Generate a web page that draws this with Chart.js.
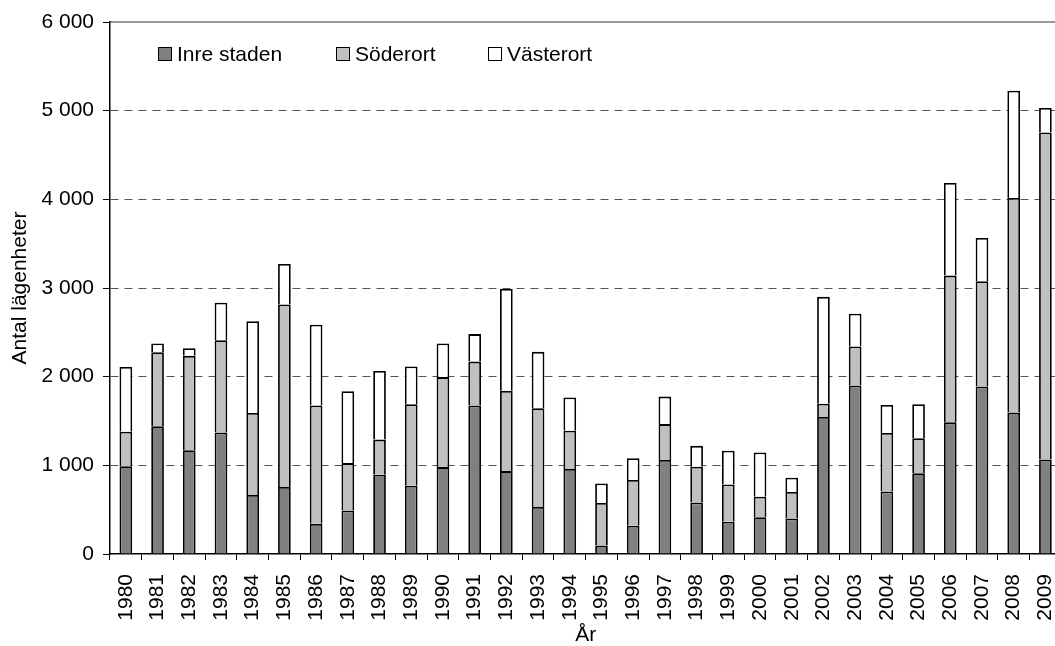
<!DOCTYPE html>
<html>
<head>
<meta charset="utf-8">
<script src="https://cdn.jsdelivr.net/npm/chart.js@4/dist/chart.umd.min.js"></script>
<style>
  html, body { margin: 0; padding: 0; background: #fff; overflow: hidden; }
  #chart { display: block; }
</style>
</head>
<body>
<canvas id="chart" width="1085" height="646"></canvas>
<script>
const years = ["1980","1981","1982","1983","1984","1985","1986","1987","1988","1989",
  "1990","1991","1992","1993","1994","1995","1996","1997","1998","1999",
  "2000","2001","2002","2003","2004","2005","2006","2007","2008","2009"];
const inreStaden = [990,1440,1170,1370,665,755,340,490,895,770,
  980,1675,935,530,960,95,320,1060,580,365,
  415,400,1545,1900,705,910,1485,1890,1595,1065];
const soderort = [390,835,1065,1040,925,2060,1335,535,395,920,
  1015,495,905,1115,430,480,515,405,405,420,
  230,300,150,440,660,395,1655,1185,2420,3690];
const vasterort = [730,100,85,425,1035,455,910,810,775,425,
  380,310,1150,635,375,220,245,310,235,380,
  500,160,1205,370,315,385,1045,490,1210,275];
const seriesNames = ["Inre staden", "Söderort", "Västerort"];
const yTicks = [0, 1000, 2000, 3000, 4000, 5000, 6000];

Chart.defaults.font.family = "'Liberation Sans', Arial, sans-serif";
Chart.defaults.font.size = 21;
Chart.defaults.color = "#000";

function fmt(v) {
  return String(v).replace(/\B(?=(\d{3})+(?!\d))/g, " ");
}

// legend drawn inside the plot area, top left
const innerLegend = {
  id: "innerLegend",
  afterDraw(chart) {
    const ctx = chart.ctx;
    const a = chart.chartArea;
    const offsets = [48, 226, 378];
    ctx.save();
    ctx.font = "21px 'Liberation Sans', Arial, sans-serif";
    ctx.textBaseline = "middle";
    ctx.textAlign = "left";
    chart.data.datasets.forEach((ds, i) => {
      const x = a.left + offsets[i];
      const y = 54;
      ctx.fillStyle = ds.backgroundColor;
      ctx.fillRect(x, y - 7, 14, 14);
      ctx.strokeStyle = "#000";
      ctx.lineWidth = 1;
      ctx.strokeRect(x + 0.5, y - 6.5, 13, 13);
      ctx.fillStyle = "#000";
      ctx.fillText(ds.label, x + 19, y + 1);
    });
    ctx.restore();
  }
};

const colors = ["#808080", "#c0c0c0", "#ffffff"];
const values = [inreStaden, soderort, vasterort];

new Chart(document.getElementById("chart"), {
  type: "bar",
  data: {
    labels: years,
    datasets: seriesNames.map((name, i) => ({
      label: name,
      data: values[i],
      backgroundColor: colors[i],
      borderColor: "#000",
      borderWidth: 1.8,
      categoryPercentage: 0.8,
      barPercentage: 0.5
    }))
  },
  options: {
    responsive: false,
    animation: false,
    layout: { padding: { top: 22, right: 2, left: 0, bottom: 0 } },
    plugins: {
      legend: { display: false },
      tooltip: { enabled: false }
    },
    scales: {
      x: {
        stacked: true,
        offset: true,
        grid: {
          offset: true,
          drawOnChartArea: false,
          tickLength: 6,
          tickColor: "#000",
          tickWidth: 1
        },
        border: { color: "#000", width: 1.5 },
        ticks: {
          autoSkip: false,
          minRotation: 90,
          maxRotation: 90,
          padding: 14,
          font: { size: 21 }
        },
        title: {
          display: true,
          text: "År",
          font: { size: 21, lineHeight: 1 },
          padding: { top: 0, bottom: 0 }
        },
        afterFit(scale) { scale.height = 92; }
      },
      xTop: {
        position: "top",
        grid: { display: false },
        ticks: { display: false },
        border: { color: "#999", width: 2 },
        afterFit(scale) { scale.height = 0; }
      },
      y: {
        stacked: true,
        min: 0,
        max: 6000,
        afterBuildTicks(scale) { scale.ticks = yTicks.map(v => ({ value: v })); },
        ticks: {
          padding: 9,
          callback: v => fmt(v),
          font: { size: 21 }
        },
        grid: {
          color: ctx => (ctx.tick && (ctx.tick.value === 0 || ctx.tick.value === 6000)) ? "rgba(0,0,0,0)" : "#555",
          lineWidth: 1,
          tickLength: 7,
          tickColor: "#000",
          tickWidth: 1
        },
        border: { color: "#000", width: 1.5, dash: [8, 6] },
        title: {
          display: true,
          text: "Antal lägenheter",
          font: { size: 21, lineHeight: 1 },
          padding: { top: 10, bottom: 0 }
        },
        afterFit(scale) { scale.width = 110; }
      }
    }
  },
  plugins: [innerLegend]
});
</script>
</body>
</html>
